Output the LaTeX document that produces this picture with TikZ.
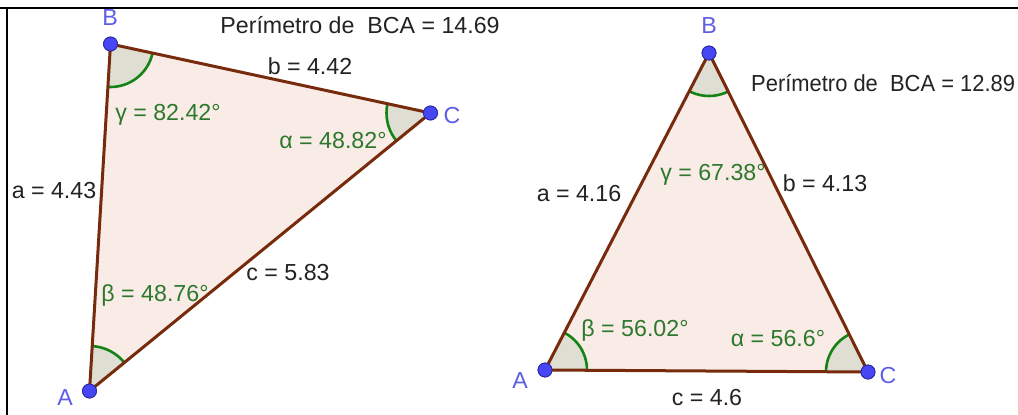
\documentclass[tikz,border=0pt]{standalone}
\usepackage{fontspec}
\setmainfont{Liberation Sans}
\definecolor{edgec}{RGB}{120,42,12}
\definecolor{trifill}{RGB}{249,236,231}
\definecolor{angfill}{RGB}{222,222,210}
\definecolor{angarc}{RGB}{20,130,20}
\definecolor{angtext}{RGB}{45,120,45}
\definecolor{ptfill}{RGB}{70,70,245}
\definecolor{ptdraw}{RGB}{40,40,160}
\definecolor{ptlabel}{RGB}{95,95,230}
\definecolor{txt}{RGB}{35,35,35}
\tikzset{
  x=1pt, y=-1pt,
  vert/.style={circle, fill=ptfill, draw=ptdraw, line width=0.8pt, minimum size=14pt, inner sep=0pt},
  edge/.style={draw=edgec, line width=3pt, line cap=round},
  lab/.style={anchor=base, inner sep=0pt, font=\fontsize{23.2}{27}\selectfont},
  sidelab/.style={lab, text=txt},
  anglab/.style={lab, text=angtext},
  ptlab/.style={lab, text=ptlabel},
  angsec/.style={fill=angfill},
  angarcs/.style={draw=angarc, line width=2.6pt},
}
\begin{document}
\begin{tikzpicture}
\useasboundingbox (0,0) rectangle (1018,415);
\fill[white] (0,0) rectangle (1018,415);
% frame
\draw[line width=2.6pt, black] (0,8) -- (1018,8);
\draw[line width=2.6pt, black] (7,8) -- (7,415);

% ---------- left triangle ----------
\coordinate (LB) at (110.5,44);
\coordinate (LC) at (430.5,113);
\coordinate (LA) at (89.5,391);
\fill[trifill] (LA) -- (LB) -- (LC) -- cycle;
\begin{scope}
  \clip (LA) -- (LB) -- (LC) -- cycle;
  \fill[angsec] (LB) circle (43);
  \fill[angsec] (LC) circle (44);
  \fill[angsec] (LA) circle (45);
  \draw[angarcs] (LB) circle (43);
  \draw[angarcs] (LC) circle (44);
  \draw[angarcs] (LA) circle (45);
\end{scope}
\node[vert] (lB) at (LB) {};
\node[vert] (lC) at (LC) {};
\node[vert] (lA) at (LA) {};
\draw[edge] (lB.center) -- (lC.center);
\draw[edge] (lC.center) -- (lA.center);
\draw[edge] (lA.center) -- (lB.center);
\node[vert] at (LB) {};
\node[vert] at (LC) {};
\node[vert] at (LA) {};

\node[ptlab] (lBl) at (110,25) {B};
\node[ptlab] (lCl) at (452,123) {C};
\node[ptlab] (lAl) at (65,405) {A};
\node[sidelab] (lper) at (360,34) {Perímetro de\ \ BCA = 14.69};
\node[sidelab] (lb) at (310,74) {b = 4.42};
\node[sidelab] (la) at (54,198) {a = 4.43};
\node[sidelab] (lc) at (288,280) {c = 5.83};
\node[anglab] (lg) at (168,120) {γ = 82.42°};
\node[anglab] (lal) at (333,148) {α = 48.82°};
\node[anglab] (lbe) at (155,301) {β = 48.76°};

% ---------- right triangle ----------
\coordinate (RB) at (709,53);
\coordinate (RA) at (545,370);
\coordinate (RC) at (868,372);
\fill[trifill] (RA) -- (RB) -- (RC) -- cycle;
\begin{scope}
  \clip (RA) -- (RB) -- (RC) -- cycle;
  \fill[angsec] (RB) circle (43);
  \fill[angsec] (RC) circle (42);
  \fill[angsec] (RA) circle (42);
  \draw[angarcs] (RB) circle (43);
  \draw[angarcs] (RC) circle (42);
  \draw[angarcs] (RA) circle (42);
\end{scope}
\node[vert] (rB) at (RB) {};
\node[vert] (rC) at (RC) {};
\node[vert] (rA) at (RA) {};
\draw[edge] (rB.center) -- (rC.center);
\draw[edge] (rC.center) -- (rA.center);
\draw[edge] (rA.center) -- (rB.center);
\node[vert] at (RB) {};
\node[vert] at (RC) {};
\node[vert] at (RA) {};

\node[ptlab] (rBl) at (709,33) {B};
\node[ptlab] (rCl) at (888,383) {C};
\node[ptlab] (rAl) at (520,388) {A};
\node[sidelab, anchor=base west, xscale=0.945] (rper) at (751,91) {Perímetro de\ \ BCA = 12.89};
\node[sidelab] (rb) at (825,191) {b = 4.13};
\node[sidelab] (ra) at (579,201) {a = 4.16};
\node[sidelab] (rc) at (707,405) {c = 4.6};
\node[anglab] (rg) at (713,180) {γ = 67.38°};
\node[anglab] (ral) at (778,346) {α = 56.6°};
\node[anglab] (rbe) at (635,336) {β = 56.02°};
\end{tikzpicture}
\end{document}
